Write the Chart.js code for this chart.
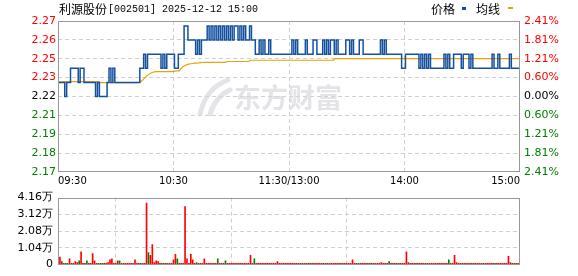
<!DOCTYPE html>
<html>
<head>
<meta charset="utf-8">
<script src="https://cdn.jsdelivr.net/npm/chart.js@4.4.1/dist/chart.umd.min.js"></script>
<style>
  html, body { margin: 0; padding: 0; background: #fff; }
  #wrap { position: relative; width: 578px; height: 276px; overflow: hidden; }
  canvas { position: absolute; left: 0; }
  #priceCanvas { top: 0; }
  #volCanvas { top: 186px; }
</style>
</head>
<body>
<div id="wrap">
  <canvas id="priceCanvas" width="578" height="190"></canvas>
  <canvas id="volCanvas" width="578" height="90"></canvas>
</div>
<script>
// 利源股份 分时图 2025-12-12

const stockName = '利源股份';
const stockInfo = '[002501] 2025-12-12 15:00';
const prevClose = 2.22;
const pctRange = 0.0241;   // 纵轴上下幅度
const volMax = 4.16;       // 万股

const timeTicks = ['09:30', '10:30', '11:30/13:00', '14:00', '15:00'];
const priceTickLabels = ['2.27', '2.26', '2.25', '2.23', '2.22', '2.21', '2.19', '2.18', '2.17'];
const pctTickLabels = ['2.41%', '1.81%', '1.21%', '0.60%', '0.00%', '0.60%', '1.21%', '1.81%', '2.41%'];
const volTickLabels = ['0', '1.04万', '2.08万', '3.12万', '4.16万'];

// 每分钟价格 (241点)
const price = [
    2.23, 2.23, 2.23, 2.23, 2.22, 2.23, 2.23, 2.24, 2.24, 2.24,
    2.24, 2.23, 2.24, 2.24, 2.23, 2.23, 2.23, 2.23, 2.23, 2.23,
    2.22, 2.23, 2.22, 2.22, 2.22, 2.22, 2.23, 2.24, 2.23, 2.24,
    2.23, 2.23, 2.23, 2.23, 2.23, 2.23, 2.23, 2.23, 2.23, 2.23,
    2.23, 2.23, 2.23, 2.24, 2.24, 2.25, 2.24, 2.25, 2.25, 2.25,
    2.25, 2.25, 2.25, 2.25, 2.24, 2.25, 2.24, 2.25, 2.25, 2.25,
    2.25, 2.24, 2.24, 2.25, 2.25, 2.25, 2.27, 2.27, 2.26, 2.26,
    2.26, 2.26, 2.25, 2.26, 2.25, 2.26, 2.26, 2.26, 2.27, 2.26,
    2.27, 2.26, 2.27, 2.26, 2.27, 2.26, 2.27, 2.26, 2.27, 2.26,
    2.27, 2.26, 2.27, 2.27, 2.26, 2.27, 2.26, 2.27, 2.26, 2.26,
    2.27, 2.26, 2.26, 2.25, 2.25, 2.26, 2.25, 2.26, 2.25, 2.25,
    2.26, 2.25, 2.25, 2.25, 2.25, 2.25, 2.25, 2.25, 2.25, 2.25,
    2.25, 2.25, 2.26, 2.25, 2.26, 2.25, 2.25, 2.25, 2.25, 2.26,
    2.25, 2.25, 2.25, 2.26, 2.26, 2.25, 2.25, 2.25, 2.26, 2.25,
    2.26, 2.25, 2.26, 2.26, 2.25, 2.26, 2.25, 2.25, 2.25, 2.25,
    2.26, 2.26, 2.25, 2.26, 2.25, 2.25, 2.25, 2.26, 2.26, 2.25,
    2.25, 2.25, 2.25, 2.25, 2.25, 2.25, 2.25, 2.25, 2.26, 2.25,
    2.26, 2.25, 2.25, 2.25, 2.25, 2.25, 2.25, 2.25, 2.25, 2.24,
    2.24, 2.25, 2.25, 2.25, 2.25, 2.25, 2.25, 2.25, 2.24, 2.25,
    2.24, 2.25, 2.24, 2.25, 2.24, 2.24, 2.24, 2.24, 2.24, 2.24,
    2.24, 2.25, 2.24, 2.25, 2.24, 2.24, 2.25, 2.25, 2.25, 2.25,
    2.24, 2.25, 2.25, 2.25, 2.24, 2.25, 2.24, 2.24, 2.24, 2.24,
    2.24, 2.24, 2.24, 2.24, 2.24, 2.24, 2.25, 2.24, 2.24, 2.25,
    2.24, 2.24, 2.24, 2.24, 2.24, 2.25, 2.24, 2.24, 2.24, 2.24,
    2.24
];

// 均价线
const avgPrice = [
    2.2300, 2.2303, 2.2304, 2.2305, 2.2305, 2.2305, 2.2305, 2.2305, 2.2305, 2.2305,
    2.2305, 2.2305, 2.2305, 2.2305, 2.2305, 2.2305, 2.2305, 2.2305, 2.2305, 2.2305,
    2.2305, 2.2305, 2.2299, 2.2299, 2.2299, 2.2299, 2.2299, 2.2299, 2.2299, 2.2299,
    2.2298, 2.2298, 2.2298, 2.2298, 2.2298, 2.2298, 2.2298, 2.2298, 2.2298, 2.2298,
    2.2298, 2.2298, 2.2299, 2.2305, 2.2317, 2.2330, 2.2345, 2.2355, 2.2365, 2.2370,
    2.2374, 2.2376, 2.2376, 2.2376, 2.2376, 2.2376, 2.2376, 2.2376, 2.2376, 2.2376,
    2.2378, 2.2380, 2.2381, 2.2382, 2.2400, 2.2412, 2.2420, 2.2426, 2.2430, 2.2432,
    2.2434, 2.2436, 2.2437, 2.2438, 2.2440, 2.2441, 2.2442, 2.2442, 2.2442, 2.2442,
    2.2442, 2.2442, 2.2442, 2.2442, 2.2442, 2.2442, 2.2442, 2.2442, 2.2448, 2.2448,
    2.2448, 2.2448, 2.2448, 2.2448, 2.2448, 2.2448, 2.2448, 2.2448, 2.2448, 2.2448,
    2.2457, 2.2457, 2.2457, 2.2457, 2.2457, 2.2457, 2.2457, 2.2457, 2.2457, 2.2457,
    2.2457, 2.2457, 2.2457, 2.2457, 2.2457, 2.2457, 2.2457, 2.2457, 2.2457, 2.2457,
    2.2457, 2.2457, 2.2457, 2.2457, 2.2457, 2.2457, 2.2457, 2.2457, 2.2457, 2.2457,
    2.2457, 2.2457, 2.2457, 2.2457, 2.2457, 2.2457, 2.2457, 2.2457, 2.2457, 2.2457,
    2.2457, 2.2457, 2.2457, 2.2457, 2.2468, 2.2468, 2.2468, 2.2468, 2.2468, 2.2468,
    2.2468, 2.2468, 2.2468, 2.2468, 2.2468, 2.2468, 2.2468, 2.2468, 2.2468, 2.2468,
    2.2468, 2.2468, 2.2468, 2.2468, 2.2468, 2.2468, 2.2468, 2.2468, 2.2468, 2.2468,
    2.2468, 2.2468, 2.2468, 2.2468, 2.2468, 2.2468, 2.2468, 2.2468, 2.2468, 2.2468,
    2.2468, 2.2468, 2.2468, 2.2468, 2.2468, 2.2468, 2.2468, 2.2468, 2.2468, 2.2468,
    2.2468, 2.2468, 2.2468, 2.2468, 2.2468, 2.2468, 2.2468, 2.2468, 2.2468, 2.2468,
    2.2468, 2.2468, 2.2468, 2.2468, 2.2468, 2.2468, 2.2468, 2.2468, 2.2468, 2.2468,
    2.2468, 2.2468, 2.2468, 2.2468, 2.2468, 2.2468, 2.2468, 2.2468, 2.2468, 2.2468,
    2.2468, 2.2468, 2.2468, 2.2468, 2.2468, 2.2468, 2.2468, 2.2468, 2.2468, 2.2468,
    2.2468, 2.2468, 2.2468, 2.2468, 2.2468, 2.2468, 2.2468, 2.2468, 2.2468, 2.2468,
    2.2468
];

// 成交量 (万股)
const volume = [
    0.06, 0.45, 0.17, 0.06, 0.06, 0.06, 0.34, 0.06, 0.06, 0.17,
    0.11, 0.22, 0.79, 0.06, 0.06, 0.22, 0.06, 0.06, 0.67, 0.22,
    0.06, 0.06, 0.06, 0.06, 0.06, 0.06, 0.11, 0.28, 0.34, 0.06,
    0.06, 0.22, 0.22, 0.06, 0.06, 0.06, 0.06, 0.06, 0.06, 0.06,
    0.28, 0.06, 0.06, 0.06, 0.06, 0.06, 3.82, 0.73, 0.56, 1.24,
    0.11, 0.22, 0.17, 0.06, 0.06, 0.06, 0.06, 0.06, 0.06, 0.06,
    0.28, 0.62, 0.34, 0.06, 0.06, 0.06, 3.60, 0.34, 0.06, 0.62,
    0.28, 0.06, 0.11, 0.06, 0.06, 0.06, 0.34, 0.06, 0.06, 0.06,
    0.06, 0.06, 0.06, 0.34, 0.06, 0.06, 0.06, 0.22, 0.06, 0.06,
    0.06, 0.06, 0.06, 0.06, 0.06, 0.06, 0.06, 0.06, 0.06, 0.06,
    0.56, 0.06, 0.34, 0.06, 0.06, 0.06, 0.06, 0.06, 0.06, 0.06,
    0.06, 0.06, 0.06, 0.06, 0.17, 0.06, 0.06, 0.06, 0.06, 0.06,
    0.06, 0.06, 0.06, 0.06, 0.06, 0.06, 0.06, 0.06, 0.06, 0.06,
    0.06, 0.06, 0.06, 0.06, 0.06, 0.06, 0.06, 0.06, 0.06, 0.06,
    0.06, 0.06, 0.06, 0.06, 0.06, 0.06, 0.06, 0.06, 0.06, 0.06,
    0.06, 0.06, 0.06, 0.28, 0.06, 0.06, 0.06, 0.06, 0.06, 0.06,
    0.06, 0.06, 0.06, 0.06, 0.06, 0.06, 0.06, 0.06, 0.11, 0.06,
    0.06, 0.06, 0.17, 0.06, 0.06, 0.06, 0.06, 0.06, 0.06, 0.06,
    0.06, 0.79, 0.11, 0.06, 0.06, 0.06, 0.06, 0.06, 0.06, 0.06,
    0.06, 0.06, 0.06, 0.06, 0.06, 0.06, 0.06, 0.06, 0.06, 0.06,
    0.06, 0.06, 0.06, 0.28, 0.06, 0.06, 0.56, 0.11, 0.06, 0.06,
    0.06, 0.06, 0.06, 0.06, 0.06, 0.06, 0.06, 0.06, 0.06, 0.06,
    0.06, 0.06, 0.06, 0.06, 0.06, 0.06, 0.06, 0.06, 0.06, 0.06,
    0.06, 0.06, 0.06, 0.06, 0.51, 0.11, 0.06, 0.06, 0.06, 0.06,
    0.11
];

// 下跌分钟 (绿柱)
const downMinutes = [3, 4, 5, 11, 15, 21, 22, 30, 32, 43, 47, 55, 57, 62, 72, 83, 87, 102,
    126, 131, 139, 147, 156, 162, 172, 176, 186, 192, 203, 214, 221, 227, 236];

// ---- 样式 ----
const UP = '#ff0000';
const DOWN = '#008000';
const FLAT = '#000000';
const GRID = '#d0d0d0';
const FRAME = '#999999';
const PRICE_LINE = '#1450a0';
const AVG_LINE = '#e5a50a';
const TICK_FONT = { family: 'DejaVu Sans', size: 11 };

function buildMinutes() {
    const fmt = m => String(Math.floor(m / 60)).padStart(2, '0') + ':' + String(m % 60).padStart(2, '0');
    const out = [];
    for (let m = 570; m <= 690; m++) out.push(fmt(m));
    for (let m = 781; m <= 900; m++) out.push(fmt(m));
    return out;
}
const minutes = buildMinutes();

const yMin = prevClose * (1 - pctRange);
const yMax = prevClose * (1 + pctRange);
const yStep = (yMax - yMin) / (priceTickLabels.length - 1);
const yTickVals = priceTickLabels.map((_, i) => yMin + i * yStep);
const volTickVals = volTickLabels.map((_, i) => i * volMax / (volTickLabels.length - 1));

function sideColor(ctx) {
    const mid = (priceTickLabels.length - 1) / 2;
    if (ctx.index > mid) return UP;
    if (ctx.index < mid) return DOWN;
    return FLAT;
}

function keepHourTicks(axis) {
    axis.ticks = axis.ticks.filter(t => t.value % 60 === 0);
}

function innerGrid(ctx) {
    const last = ctx.scale.ticks.length - 1;
    return (ctx.index === 0 || ctx.index === last) ? 'rgba(0,0,0,0)' : GRID;
}

const framePlugin = {
    id: 'frame',
    afterDatasetsDraw(chart) {
        const a = chart.chartArea;
        const ctx = chart.ctx;
        ctx.save();
        ctx.strokeStyle = FRAME;
        ctx.lineWidth = 1;
        ctx.strokeRect(Math.round(a.left) + 0.5, Math.round(a.top) + 0.5,
            Math.round(a.right - a.left) - 1, Math.round(a.bottom - a.top) - 1);
        ctx.restore();
    }
};

const watermarkPlugin = {
    id: 'watermark',
    beforeDatasetsDraw(chart) {
        const ctx = chart.ctx;
        ctx.save();
        ctx.strokeStyle = 'rgba(215, 215, 222, 0.7)';
        ctx.fillStyle = 'rgba(215, 215, 222, 0.7)';
        ctx.lineCap = 'round';
        ctx.lineWidth = 5;
        ctx.beginPath();
        ctx.moveTo(200, 114);
        ctx.quadraticCurveTo(206, 88, 228, 80);
        ctx.stroke();
        ctx.beginPath();
        ctx.moveTo(210, 114);
        ctx.quadraticCurveTo(216, 96, 230, 90);
        ctx.stroke();
        ctx.font = 'bold 27px "Noto Sans CJK SC"';
        ctx.textBaseline = 'middle';
        ctx.fillText('东方财富', 234, 98);
        ctx.restore();
    }
};

const headerPlugin = {
    id: 'header',
    afterDraw(chart) {
        const ctx = chart.ctx;
        ctx.save();
        ctx.textBaseline = 'middle';
        ctx.fillStyle = '#000';
        ctx.font = '12px "Noto Sans CJK SC"';
        ctx.fillText(stockName, 59, 9);
        const w = ctx.measureText(stockName).width;
        ctx.font = '10px "Liberation Mono"';
        ctx.fillText(stockInfo, 59 + w + 1, 9);

        // 图例
        ctx.font = '12px "Noto Sans CJK SC"';
        ctx.fillText('价格', 431, 9);
        ctx.fillStyle = PRICE_LINE;
        ctx.fillRect(462, 7, 4, 3);
        ctx.fillStyle = '#000';
        ctx.fillText('均线', 476, 9);
        ctx.fillStyle = AVG_LINE;
        ctx.fillRect(508, 7, 5, 2);

        // 时间轴标签
        const xs = chart.scales.x;
        ctx.fillStyle = '#000';
        ctx.font = '10px "DejaVu Sans"';
        timeTicks.forEach((t, i) => {
            const x = xs.getPixelForValue(i * 60);
            ctx.textAlign = i === 0 ? 'left' : (i === timeTicks.length - 1 ? 'right' : 'center');
            ctx.fillText(t, x, 181);
        });
        ctx.restore();
    }
};

new Chart(document.getElementById('priceCanvas'), {
    type: 'line',
    data: {
        labels: minutes,
        datasets: [{
            data: price,
            borderColor: PRICE_LINE,
            borderWidth: 1.5,
            pointRadius: 0,
            stepped: 'middle',
            yAxisID: 'y'
        }, {
            data: avgPrice,
            borderColor: AVG_LINE,
            borderWidth: 1.2,
            pointRadius: 0,
            tension: 0,
            yAxisID: 'y'
        }]
    },
    options: {
        responsive: false,
        animation: false,
        devicePixelRatio: 1,
        layout: { padding: { top: 21, left: 0, right: 0, bottom: 0 } },
        plugins: { legend: { display: false }, tooltip: { enabled: false } },
        scales: {
            x: {
                type: 'category',
                offset: false,
                afterBuildTicks: keepHourTicks,
                afterFit: axis => { axis.height = 18; },
                ticks: { display: false, autoSkip: false },
                grid: { color: innerGrid, drawTicks: false },
                border: { display: false, dash: [4, 3] }
            },
            y: {
                position: 'left',
                min: yMin,
                max: yMax,
                afterBuildTicks: axis => { axis.ticks = yTickVals.map(v => ({ value: v })); },
                afterFit: axis => { axis.width = 58; },
                ticks: {
                    callback: (v, i) => priceTickLabels[priceTickLabels.length - 1 - i],
                    color: sideColor,
                    font: TICK_FONT,
                    padding: 2
                },
                grid: { color: innerGrid, drawTicks: false },
                border: { display: false, dash: [4, 3] }
            },
            y1: {
                position: 'right',
                min: yMin,
                max: yMax,
                afterBuildTicks: axis => { axis.ticks = yTickVals.map(v => ({ value: v })); },
                afterFit: axis => { axis.width = 58; },
                ticks: {
                    callback: (v, i) => pctTickLabels[pctTickLabels.length - 1 - i],
                    color: sideColor,
                    font: TICK_FONT,
                    padding: 4
                },
                grid: { drawOnChartArea: false, drawTicks: false },
                border: { display: false }
            }
        }
    },
    plugins: [watermarkPlugin, framePlugin, headerPlugin]
});

new Chart(document.getElementById('volCanvas'), {
    type: 'bar',
    data: {
        labels: minutes,
        datasets: [{
            data: volume,
            backgroundColor: volume.map((_, i) => downMinutes.includes(i) ? DOWN : UP),
            barThickness: 1,
            borderWidth: 0
        }]
    },
    options: {
        responsive: false,
        animation: false,
        devicePixelRatio: 1,
        layout: { padding: { top: 10, left: 0, right: 58, bottom: 0 } },
        plugins: { legend: { display: false }, tooltip: { enabled: false } },
        scales: {
            x: {
                type: 'category',
                offset: false,
                afterBuildTicks: keepHourTicks,
                afterFit: axis => { axis.height = 6; },
                ticks: { display: false, autoSkip: false },
                grid: { color: innerGrid, drawTicks: false },
                border: { display: false, dash: [4, 3] }
            },
            y: {
                position: 'left',
                min: 0,
                max: volMax,
                afterBuildTicks: axis => { axis.ticks = volTickVals.map(v => ({ value: v })); },
                afterFit: axis => { axis.width = 58; },
                ticks: {
                    callback: (v, i) => volTickLabels[i],
                    color: '#000',
                    font: TICK_FONT,
                    padding: 5
                },
                grid: { color: innerGrid, drawTicks: false },
                border: { display: false, dash: [4, 3] }
            }
        }
    },
    plugins: [framePlugin]
});
</script>
</body>
</html>
